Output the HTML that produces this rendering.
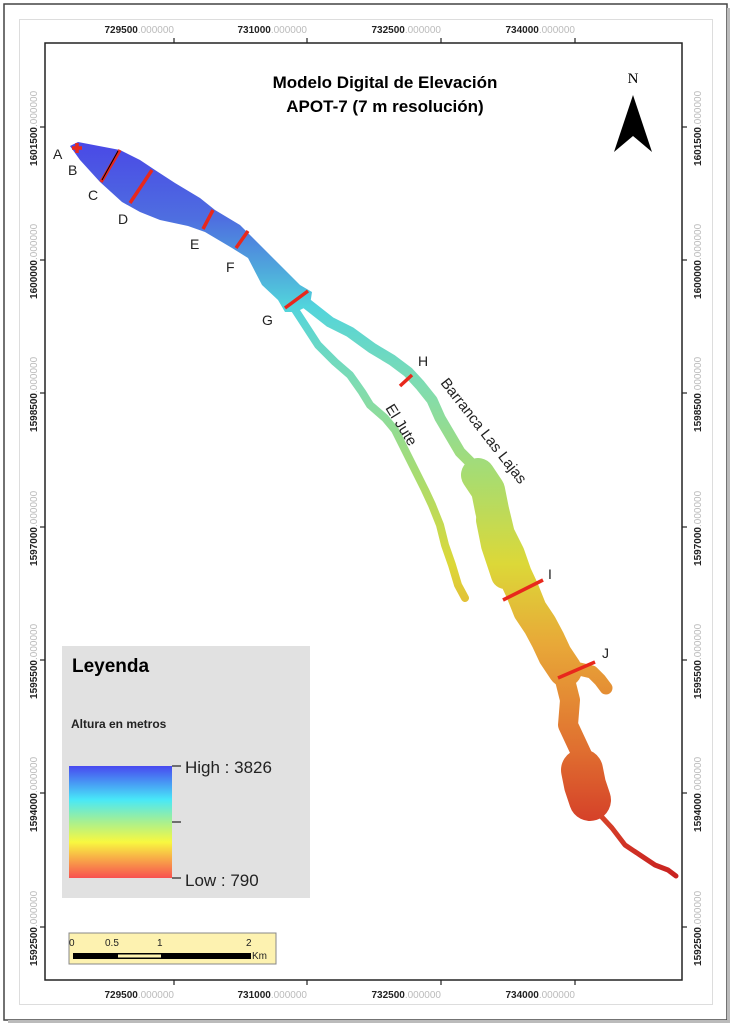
<!DOCTYPE html>
<html><head><meta charset="utf-8"><style>
body{margin:0;background:#fff;width:732px;height:1028px;overflow:hidden;font-family:"Liberation Sans",sans-serif}
</style></head><body>
<svg width="732" height="1028" viewBox="0 0 732 1028" xmlns="http://www.w3.org/2000/svg" font-family="Liberation Sans, sans-serif">
<defs>
<linearGradient id="g" gradientUnits="userSpaceOnUse" x1="0" y1="145" x2="0" y2="880">
<stop offset="0" stop-color="#4a4ae6"/>
<stop offset="0.1" stop-color="#4e6ee0"/>
<stop offset="0.17" stop-color="#4fa8dc"/>
<stop offset="0.22" stop-color="#52d4dc"/>
<stop offset="0.33" stop-color="#80dcb0"/>
<stop offset="0.45" stop-color="#a8dc70"/>
<stop offset="0.57" stop-color="#dcd838"/>
<stop offset="0.68" stop-color="#e8a838"/>
<stop offset="0.82" stop-color="#e07030"/>
<stop offset="0.93" stop-color="#d43c28"/>
<stop offset="1" stop-color="#c82020"/>
</linearGradient>
<linearGradient id="lg" x1="0" y1="0" x2="0" y2="1">
<stop offset="0" stop-color="#4848f0"/>
<stop offset="0.3" stop-color="#48e8f8"/>
<stop offset="0.5" stop-color="#a8f090"/>
<stop offset="0.68" stop-color="#f8f840"/>
<stop offset="1" stop-color="#f85050"/>
</linearGradient>
</defs>
<rect x="4" y="4" width="723" height="1016" fill="#fff" stroke="#444" stroke-width="1.5"/>
<rect x="727" y="8" width="3" height="1015" fill="#bbb"/>
<rect x="8" y="1020" width="722" height="3" fill="#bbb"/>
<rect x="19.5" y="19.5" width="693" height="985" fill="none" stroke="#bbb" stroke-dasharray="1,1"/>
<rect x="45" y="43" width="637" height="937" fill="#fff" stroke="#222" stroke-width="1.5"/>
<g stroke="#222" stroke-width="1.2">
<line x1="174" y1="38" x2="174" y2="43"/><line x1="307" y1="38" x2="307" y2="43"/><line x1="441" y1="38" x2="441" y2="43"/><line x1="575" y1="38" x2="575" y2="43"/>
<line x1="174" y1="980" x2="174" y2="985"/><line x1="307" y1="980" x2="307" y2="985"/><line x1="441" y1="980" x2="441" y2="985"/><line x1="575" y1="980" x2="575" y2="985"/>
<line x1="40" y1="127" x2="45" y2="127"/><line x1="40" y1="260" x2="45" y2="260"/><line x1="40" y1="393" x2="45" y2="393"/><line x1="40" y1="527" x2="45" y2="527"/><line x1="40" y1="660" x2="45" y2="660"/><line x1="40" y1="793" x2="45" y2="793"/><line x1="40" y1="927" x2="45" y2="927"/>
<line x1="682" y1="127" x2="687" y2="127"/><line x1="682" y1="260" x2="687" y2="260"/><line x1="682" y1="393" x2="687" y2="393"/><line x1="682" y1="527" x2="687" y2="527"/><line x1="682" y1="660" x2="687" y2="660"/><line x1="682" y1="793" x2="687" y2="793"/><line x1="682" y1="927" x2="687" y2="927"/>
</g>
<g font-size="10" font-weight="bold" fill="#222">
<text x="174" y="33" text-anchor="end">729500<tspan fill="#bbb" font-weight="normal">.000000</tspan></text>
<text x="307" y="33" text-anchor="end">731000<tspan fill="#bbb" font-weight="normal">.000000</tspan></text>
<text x="441" y="33" text-anchor="end">732500<tspan fill="#bbb" font-weight="normal">.000000</tspan></text>
<text x="575" y="33" text-anchor="end">734000<tspan fill="#bbb" font-weight="normal">.000000</tspan></text>
<text x="174" y="998" text-anchor="end">729500<tspan fill="#bbb" font-weight="normal">.000000</tspan></text>
<text x="307" y="998" text-anchor="end">731000<tspan fill="#bbb" font-weight="normal">.000000</tspan></text>
<text x="441" y="998" text-anchor="end">732500<tspan fill="#bbb" font-weight="normal">.000000</tspan></text>
<text x="575" y="998" text-anchor="end">734000<tspan fill="#bbb" font-weight="normal">.000000</tspan></text>
</g>
<g font-size="10" font-weight="bold" fill="#222">
<g transform="translate(37,127) rotate(-90)"><text x="0" y="0" text-anchor="end">1601500</text><text x="0" y="0" fill="#bbb" font-weight="normal">.000000</text></g>
<g transform="translate(37,260) rotate(-90)"><text x="0" y="0" text-anchor="end">1600000</text><text x="0" y="0" fill="#bbb" font-weight="normal">.000000</text></g>
<g transform="translate(37,393) rotate(-90)"><text x="0" y="0" text-anchor="end">1598500</text><text x="0" y="0" fill="#bbb" font-weight="normal">.000000</text></g>
<g transform="translate(37,527) rotate(-90)"><text x="0" y="0" text-anchor="end">1597000</text><text x="0" y="0" fill="#bbb" font-weight="normal">.000000</text></g>
<g transform="translate(37,660) rotate(-90)"><text x="0" y="0" text-anchor="end">1595500</text><text x="0" y="0" fill="#bbb" font-weight="normal">.000000</text></g>
<g transform="translate(37,793) rotate(-90)"><text x="0" y="0" text-anchor="end">1594000</text><text x="0" y="0" fill="#bbb" font-weight="normal">.000000</text></g>
<g transform="translate(37,927) rotate(-90)"><text x="0" y="0" text-anchor="end">1592500</text><text x="0" y="0" fill="#bbb" font-weight="normal">.000000</text></g>
<g transform="translate(701,127) rotate(-90)"><text x="0" y="0" text-anchor="end">1601500</text><text x="0" y="0" fill="#bbb" font-weight="normal">.000000</text></g>
<g transform="translate(701,260) rotate(-90)"><text x="0" y="0" text-anchor="end">1600000</text><text x="0" y="0" fill="#bbb" font-weight="normal">.000000</text></g>
<g transform="translate(701,393) rotate(-90)"><text x="0" y="0" text-anchor="end">1598500</text><text x="0" y="0" fill="#bbb" font-weight="normal">.000000</text></g>
<g transform="translate(701,527) rotate(-90)"><text x="0" y="0" text-anchor="end">1597000</text><text x="0" y="0" fill="#bbb" font-weight="normal">.000000</text></g>
<g transform="translate(701,660) rotate(-90)"><text x="0" y="0" text-anchor="end">1595500</text><text x="0" y="0" fill="#bbb" font-weight="normal">.000000</text></g>
<g transform="translate(701,793) rotate(-90)"><text x="0" y="0" text-anchor="end">1594000</text><text x="0" y="0" fill="#bbb" font-weight="normal">.000000</text></g>
<g transform="translate(701,927) rotate(-90)"><text x="0" y="0" text-anchor="end">1592500</text><text x="0" y="0" fill="#bbb" font-weight="normal">.000000</text></g>
</g>
<text x="385" y="88" text-anchor="middle" font-size="17" font-weight="bold">Modelo Digital de Elevación</text>
<text x="385" y="112" text-anchor="middle" font-size="17" font-weight="bold">APOT-7 (7 m resolución)</text>
<text x="633" y="83" text-anchor="middle" font-size="15" font-family="Liberation Serif, serif">N</text>
<polygon points="633,95 614,152 633,136 652,152" fill="#000"/>
<!-- DEM -->
<path fill="url(#g)" d="M70,146 L78,142 L120,150 L140,160 L155,170 L175,183 L200,198 L215,210 L240,225 L255,240 L275,260 L300,285 L312,292 L310,305 L296,312 L285,312 L278,300 L262,285 L248,258 L232,248 L205,232 L188,226 L160,220 L140,212 L122,202 L100,182 L80,160 Z"/>
<g fill="none" stroke="url(#g)" stroke-linecap="round" stroke-linejoin="round">
<path d="M292,305 L305,325 L318,345 L335,362 L350,375 L362,392 L370,405 L385,418 L395,430 L405,450 L415,470 L425,490 L432,505 L440,525 L445,545 L452,565 L458,585 L465,598" stroke-width="8"/>
<path d="M302,300 L330,322 L350,332 L372,348 L392,360 L408,372 L420,385 L432,400 L440,418 L450,435 L460,452 L470,462 L478,475" stroke-width="11"/>
<path d="M478,475 L488,490 L492,510 L498,535 L508,555 L515,575 L522,590 L530,610 L540,625 L548,640 L555,655 L565,670" stroke-width="34"/>
<path d="M490,520 L495,545 L505,575" stroke-width="28"/>
<path d="M575,668 L592,672 L600,680 L606,688" stroke-width="13"/>
<path d="M565,680 L570,700 L568,725 L575,740 L582,755" stroke-width="20"/>
<path d="M582,770 L585,785 L590,800" stroke-width="42"/>
<path d="M600,815 L612,828 L625,845 L640,855 L655,865 L668,870 L676,876" stroke-width="5"/>
</g>
<g stroke="#e8281c" stroke-width="3.5">
<line x1="120" y1="150" x2="101" y2="182"/>
<line x1="152" y1="170" x2="130" y2="203"/>
<line x1="213" y1="210" x2="203" y2="229"/>
<line x1="248" y1="231" x2="236" y2="248"/>
<line x1="308" y1="291" x2="285" y2="308"/>
<line x1="412" y1="375" x2="400" y2="386"/>
<line x1="543" y1="580" x2="503" y2="600"/>
<line x1="595" y1="662" x2="558" y2="678"/>
</g>
<line x1="118" y1="151" x2="102" y2="180" stroke="#000" stroke-width="1"/>
<path d="M72,148 h10 M77,143 v10" stroke="#e8281c" stroke-width="3.5"/>
<g font-size="14" fill="#222">
<text x="53" y="159">A</text><text x="68" y="175">B</text><text x="88" y="200">C</text><text x="118" y="224">D</text>
<text x="190" y="249">E</text><text x="226" y="272">F</text><text x="262" y="325">G</text><text x="418" y="366">H</text>
<text x="548" y="579">I</text><text x="602" y="658">J</text>
</g>
<text transform="translate(440,383) rotate(52)" font-size="15" fill="#222">Barranca  Las Lajas</text>
<text transform="translate(385,408) rotate(58)" font-size="15" fill="#222">El Jute</text>
<rect x="62" y="646" width="248" height="252" fill="#e1e1e1"/>
<text x="72" y="672" font-size="19" font-weight="bold">Leyenda</text>
<text x="71" y="728" font-size="12" font-weight="bold" fill="#222">Altura en metros</text>
<rect x="69" y="766" width="103" height="112" fill="url(#lg)"/>
<g stroke="#222" stroke-width="1.2"><line x1="172" y1="766" x2="181" y2="766"/><line x1="172" y1="822" x2="181" y2="822"/><line x1="172" y1="878" x2="181" y2="878"/></g>
<text x="185" y="773" font-size="17" fill="#222">High : 3826</text>
<text x="185" y="886" font-size="17" fill="#222">Low : 790</text>
<rect x="69" y="933" width="207" height="31" fill="#fdf2b0" stroke="#888"/>
<g font-size="10" fill="#222"><text x="69" y="946">0</text><text x="105" y="946">0.5</text><text x="157" y="946">1</text><text x="246" y="946">2</text><text x="252" y="959">Km</text></g>
<rect x="73" y="953" width="178" height="6" fill="#000"/>
<rect x="118" y="954.5" width="43" height="3" fill="#fdf2b0"/>
</svg>
</body></html>
